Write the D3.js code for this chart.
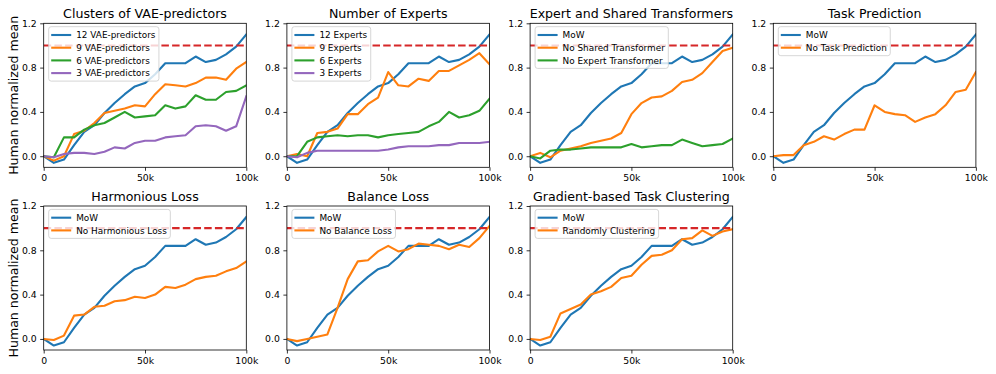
<!DOCTYPE html>
<html><head><meta charset="utf-8">
<script src="https://cdn.jsdelivr.net/npm/d3@7"></script>
<style>
html,body{margin:0;padding:0;background:#fff;}
svg{display:block;font-family:"DejaVu Sans",sans-serif;}
</style></head>
<body>
<svg id="chart" width="996" height="374"></svg>
<script>
const steps = [0,5,10,15,20,25,30,35,40,45,50,55,60,65,70,75,80,85,90,95,100]; // thousands
const xTickLabels = ["0","50k","100k"];
const yTicks = [0.0,0.4,0.8,1.2];
const mow = [0.0,-0.06,-0.03,0.10,0.22,0.28,0.39,0.48,0.56,0.63,0.66,0.74,0.84,0.84,0.84,0.90,0.85,0.87,0.92,0.99,1.10];

const vae9 = [0.0,-0.04,0.0,0.20,0.23,0.30,0.39,0.41,0.43,0.46,0.45,0.56,0.65,0.64,0.63,0.66,0.71,0.71,0.69,0.79,0.85];
const vae6 = [0.0,-0.01,0.17,0.17,0.24,0.28,0.30,0.35,0.40,0.35,0.36,0.37,0.46,0.43,0.45,0.55,0.51,0.51,0.58,0.59,0.64];
const vae3 = [0.0,-0.01,0.02,0.03,0.03,0.02,0.04,0.08,0.07,0.12,0.14,0.14,0.17,0.18,0.19,0.27,0.28,0.27,0.23,0.27,0.54];

const exp9 = [0.0,0.02,0.0,0.21,0.22,0.25,0.38,0.38,0.47,0.53,0.76,0.64,0.63,0.70,0.68,0.77,0.77,0.82,0.87,0.93,0.83];
const exp6 = [0.0,0.0,0.13,0.17,0.18,0.19,0.18,0.19,0.19,0.17,0.19,0.20,0.21,0.22,0.27,0.31,0.40,0.35,0.37,0.41,0.52];
const exp3 = [0.0,-0.01,0.03,0.05,0.05,0.05,0.05,0.05,0.05,0.05,0.06,0.08,0.09,0.09,0.09,0.10,0.10,0.12,0.12,0.12,0.13];

const noShared = [0.0,0.03,-0.01,0.05,0.07,0.09,0.12,0.14,0.16,0.21,0.38,0.48,0.53,0.54,0.59,0.67,0.69,0.75,0.85,0.95,0.98];
const noExpert = [0.0,-0.02,0.05,0.06,0.06,0.07,0.08,0.08,0.08,0.08,0.11,0.08,0.09,0.10,0.10,0.15,0.12,0.09,0.10,0.11,0.16];
const noTaskPred = [0.0,0.01,0.01,0.10,0.13,0.18,0.15,0.20,0.24,0.24,0.46,0.40,0.38,0.37,0.31,0.35,0.38,0.46,0.58,0.60,0.76];
const noHarm = [0.0,-0.01,0.03,0.21,0.22,0.29,0.30,0.34,0.35,0.38,0.37,0.40,0.47,0.46,0.49,0.54,0.56,0.57,0.61,0.64,0.70];
const noBalance = [0.0,-0.02,0.0,0.02,0.04,0.28,0.54,0.70,0.71,0.79,0.84,0.79,0.81,0.86,0.85,0.84,0.81,0.85,0.83,0.91,1.02];
const randomClust = [0.0,-0.01,0.02,0.23,0.27,0.31,0.40,0.43,0.47,0.55,0.57,0.67,0.75,0.76,0.80,0.90,0.91,0.98,0.93,0.97,0.99];

const titles = ["Clusters of VAE-predictors","Number of Experts","Expert and Shared Transformers","Task Prediction","Harmonious Loss","Balance Loss","Gradient-based Task Clustering"];
const seriesNames = [
  ["12 VAE-predictors","9 VAE-predictors","6 VAE-predictors","3 VAE-predictors"],
  ["12 Experts","9 Experts","6 Experts","3 Experts"],
  ["MoW","No Shared Transformer","No Expert Transformer"],
  ["MoW","No Task Prediction"],
  ["MoW","No Harmonious Loss"],
  ["MoW","No Balance Loss"],
  ["MoW","Randomly Clustering"]
];
const seriesValues = [
  [mow,vae9,vae6,vae3],
  [mow,exp9,exp6,exp3],
  [mow,noShared,noExpert],
  [mow,noTaskPred],
  [mow,noHarm],
  [mow,noBalance],
  [mow,randomClust]
];
const colors = ["#1f77b4","#ff7f0e","#2ca02c","#9467bd"];
const humanLevel = 1.0;

const svg = d3.select("#chart");
const lefts = [43.7, 286.9, 530.1, 773.3];
const tops = [23.3, 206];
const W = 202.6, H = 144;

titles.forEach((title, i) => {
  const row = Math.floor(i/4), col = i%4;
  const g = svg.append("g").attr("transform", `translate(${lefts[col]},${tops[row]})`);
  const x = d3.scaleLinear().domain([0,100]).range([0,W]);
  const y = d3.scaleLinear().domain([-0.1,1.2]).range([H,0]);

  const clipId = "clip"+i;
  g.append("clipPath").attr("id",clipId).append("rect").attr("width",W).attr("height",H);
  const plot = g.append("g").attr("clip-path",`url(#${clipId})`);

  const line = d3.line().x((d,j)=>x(steps[j])).y(d=>y(d));
  seriesValues[i].forEach((vals,k)=>{
    plot.append("path").datum(vals).attr("d",line)
      .attr("fill","none").attr("stroke",colors[k]).attr("stroke-width",2.1)
      .attr("stroke-linejoin","round").attr("stroke-linecap","square");
  });
  plot.append("line").attr("x1",x(0)).attr("x2",x(100)).attr("y1",y(humanLevel)).attr("y2",y(humanLevel))
    .attr("stroke","#d62728").attr("stroke-width",2.1).attr("stroke-dasharray","7.5,3.2");

  // axes
  const xa = d3.axisBottom(x).tickValues([0,50,100]).tickFormat((d,j)=>xTickLabels[j]).tickSize(3.5).tickPadding(3.5);
  const ya = d3.axisLeft(y).tickValues(yTicks).tickFormat(d3.format(".1f")).tickSize(3.5).tickPadding(3.5);
  const gx = g.append("g").attr("transform",`translate(0,${H})`).call(xa);
  const gy = g.append("g").call(ya);
  [gx,gy].forEach(a=>{
    a.select(".domain").remove();
    a.selectAll("line").attr("stroke","#000").attr("stroke-width",0.8);
    a.selectAll("text").attr("font-size",9.3).attr("fill","#000").attr("font-family","DejaVu Sans");
  });
  g.append("rect").attr("width",W).attr("height",H).attr("fill","none").attr("stroke","#000").attr("stroke-width",0.8);

  g.append("text").attr("x",W/2).attr("y",-5).attr("text-anchor","middle")
    .attr("font-size",12.6).attr("fill","#000").text(title);

  // legend
  const names = seriesNames[i];
  const lg = g.append("g").attr("transform","translate(5,3.4)");
  const rowH = 12.7;
  const box = lg.append("rect").attr("rx",2.5).attr("ry",2.5)
    .attr("fill","#fff").attr("fill-opacity",0.8).attr("stroke","#ccc").attr("stroke-width",0.8);
  let maxW = 0;
  names.forEach((n,k)=>{
    const cy = 8.3 + k*rowH;
    lg.append("line").attr("x1",2.5).attr("x2",22.5).attr("y1",cy).attr("y2",cy)
      .attr("stroke",colors[k]).attr("stroke-width",2.1);
    const t = lg.append("text").attr("x",27.5).attr("y",cy+3.2).attr("font-size",8.9).attr("fill","#000").text(n);
    maxW = Math.max(maxW, t.node().getComputedTextLength());
  });
  box.attr("x",0).attr("y",0).attr("width",27.5+maxW+3.5).attr("height",names.length*rowH+3.6);
});

// y labels
[0,1].forEach(r=>{
  svg.append("text").attr("transform",`translate(18,${tops[r]+H/2}) rotate(-90)`)
    .attr("text-anchor","middle").attr("font-size",12.6).attr("fill","#000").text("Human normalized mean");
});
</script>
</body></html>
